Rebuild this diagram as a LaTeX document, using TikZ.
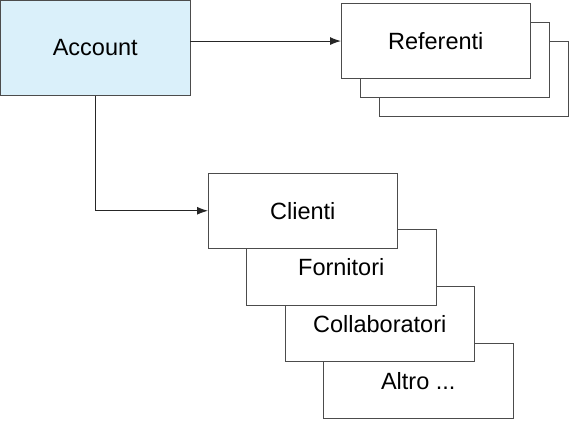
\documentclass[tikz,border=0pt]{standalone}
\usepackage{fontspec}
\setmainfont{Liberation Sans}
\usetikzlibrary{arrows.meta,positioning,calc,backgrounds}
\definecolor{acctblue}{RGB}{218,240,250}
\tikzset{>={Latex[length=11pt,width=8pt]}, line/.style={line width=1pt, draw=black!85},
card/.style={draw=black!70, line width=1pt, fill=white, outer sep=0pt, inner sep=0pt,
  minimum width=189.5pt, minimum height=75.5pt, font=\fontsize{23.5pt}{28pt}\selectfont}}

\begin{document}
\begin{tikzpicture}
\useasboundingbox (0,0) rectangle (569pt,-420pt);
\node[card, fill=acctblue, minimum height=95pt, anchor=north west] (account) at (0.5pt,-0.5pt) {Account};
\node[card, below right=2.8pt and 151pt of account.north east] (referenti) {Referenti};
\node[card, below right=77.5pt and 18pt of account.south east] (clienti) {Clienti};

% copies stacked behind
\begin{scope}[on background layer]
\foreach \k in {2,1} {
  \node[card] at ($(referenti)+(19pt*\k,-19pt*\k)$) {};
}
\node[card] (altro) at ($(clienti)+(3*38.5pt,-3*56.7pt)$) {Altro ...};
\node[card] (collab) at ($(clienti)+(2*38.5pt,-2*56.7pt)$) {Collaboratori};
\node[card] (fornitori) at ($(clienti)+(38.5pt,-56.7pt)$) {Fornitori};
\end{scope}

\draw[->,line] (account.east |- referenti.west) -- (referenti.west);
\draw[->,line] (account.south) |- (clienti.west);
\end{tikzpicture}
\end{document}
